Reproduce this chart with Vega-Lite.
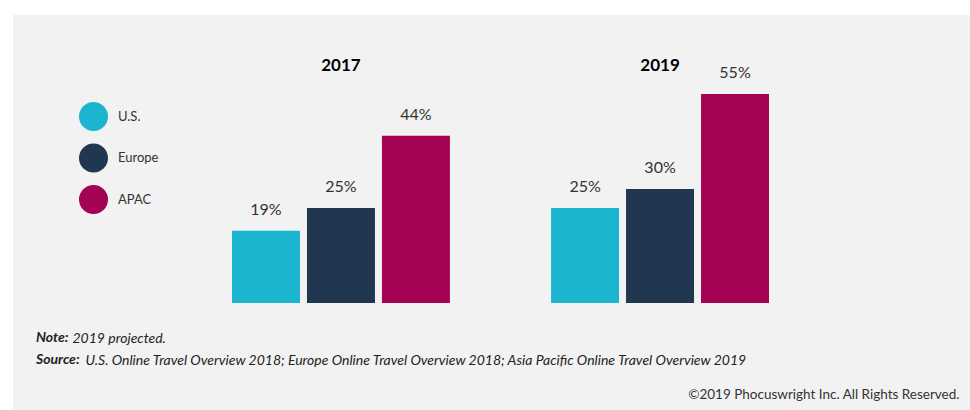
{
  "$schema": "https://vega.github.io/schema/vega-lite/v6.json",
  "width": 957,
  "height": 395,
  "autosize": {"type": "none"},
  "padding": {"left": 13, "top": 15, "right": 0, "bottom": 0},
  "background": "white",
  "config": {"view": {"fill": "#f2f2f2", "stroke": null}, "font": "Lato"},
  "title": {
    "text": ["Note:", "Source:"],
    "orient": "bottom",
    "anchor": "start",
    "frame": "group",
    "offset": -79,
    "dx": 23,
    "font": "Lato",
    "fontSize": 14,
    "fontWeight": "bold",
    "fontStyle": "italic",
    "lineHeight": 22,
    "color": "#222222"
  },
  "data": {
    "values": [
      {"year": "2017", "region": "U.S.", "share": 0.19},
      {"year": "2017", "region": "Europe", "share": 0.25},
      {"year": "2017", "region": "APAC", "share": 0.44},
      {"year": "2019", "region": "U.S.", "share": 0.25},
      {"year": "2019", "region": "Europe", "share": 0.30},
      {"year": "2019", "region": "APAC", "share": 0.55}
    ]
  },
  "resolve": {"axis": {"x": "independent"}},
  "encoding": {
    "xOffset": {
      "field": "region", "type": "nominal", "sort": ["U.S.", "Europe", "APAC"],
      "scale": {"paddingInner": 0.0933, "paddingOuter": 0}
    },
    "y": {
      "field": "share", "type": "quantitative",
      "scale": {"domain": [0, 0.7579], "range": [288, 0]},
      "axis": {
        "orient": "left", "domain": false, "ticks": false, "labels": false, "grid": false,
        "title": "2019 projected.",
        "titleFont": "Lato", "titleFontSize": 14, "titleFontStyle": "italic", "titleFontWeight": "normal",
        "titleColor": "#222222", "titleAngle": 0, "titleAlign": "left", "titleBaseline": "middle",
        "titleX": 59, "titleY": 323
      }
    }
  },
  "layer": [
    {
      "mark": {"type": "bar"},
      "encoding": {
        "x": {
          "field": "year", "type": "nominal",
          "scale": {"range": [219, 756], "paddingInner": 0.317, "paddingOuter": 0},
          "axis": {
            "orient": "top", "offset": -50, "domain": false, "ticks": false, "tickSize": 0,
            "labelPadding": 0, "labelBaseline": "middle", "labelAngle": 0,
            "labelFont": "Lato", "labelFontSize": 17, "labelFontWeight": "bold", "labelColor": "#000000",
            "title": "U.S. Online Travel Overview 2018; Europe Online Travel Overview 2018; Asia Pacific Online Travel Overview 2019",
            "titleFont": "Lato", "titleFontSize": 14, "titleFontStyle": "italic", "titleFontWeight": "normal",
            "titleColor": "#222222", "titleAngle": 0, "titleAlign": "left", "titleBaseline": "middle",
            "titleX": 72, "titleY": 295
          }
        },
        "color": {
          "field": "region", "type": "nominal",
          "scale": {"domain": ["U.S.", "Europe", "APAC"], "range": ["#1bb5cf", "#21374f", "#a30352"]},
          "legend": {
            "orient": "none", "legendX": 66, "legendY": 87, "title": null, "padding": 0,
            "symbolType": "circle", "symbolSize": 841, "symbolStrokeWidth": 0, "symbolOpacity": 1,
            "labelFont": "Lato", "labelFontSize": 13, "labelColor": "#333333", "labelOffset": 10,
            "rowPadding": 12.5
          }
        }
      }
    },
    {
      "mark": {"type": "text", "baseline": "middle", "dy": -21, "font": "Lato", "fontSize": 16, "color": "#333333"},
      "encoding": {
        "x": {
          "field": "year", "type": "nominal",
          "scale": {"range": [219, 756], "paddingInner": 0.317, "paddingOuter": 0},
          "axis": {
            "orient": "bottom", "domain": false, "ticks": false, "labels": false, "grid": false,
            "title": "©2019 Phocuswright Inc. All Rights Reserved.",
            "titleFont": "Lato", "titleFontSize": 13.5, "titleFontWeight": "normal",
            "titleColor": "#333333", "titleAngle": 0, "titleAlign": "right", "titleBaseline": "middle",
            "titleX": 946, "titleY": -16
          }
        },
        "text": {"field": "share", "type": "quantitative", "format": ".0%"}
      }
    }
  ]
}
